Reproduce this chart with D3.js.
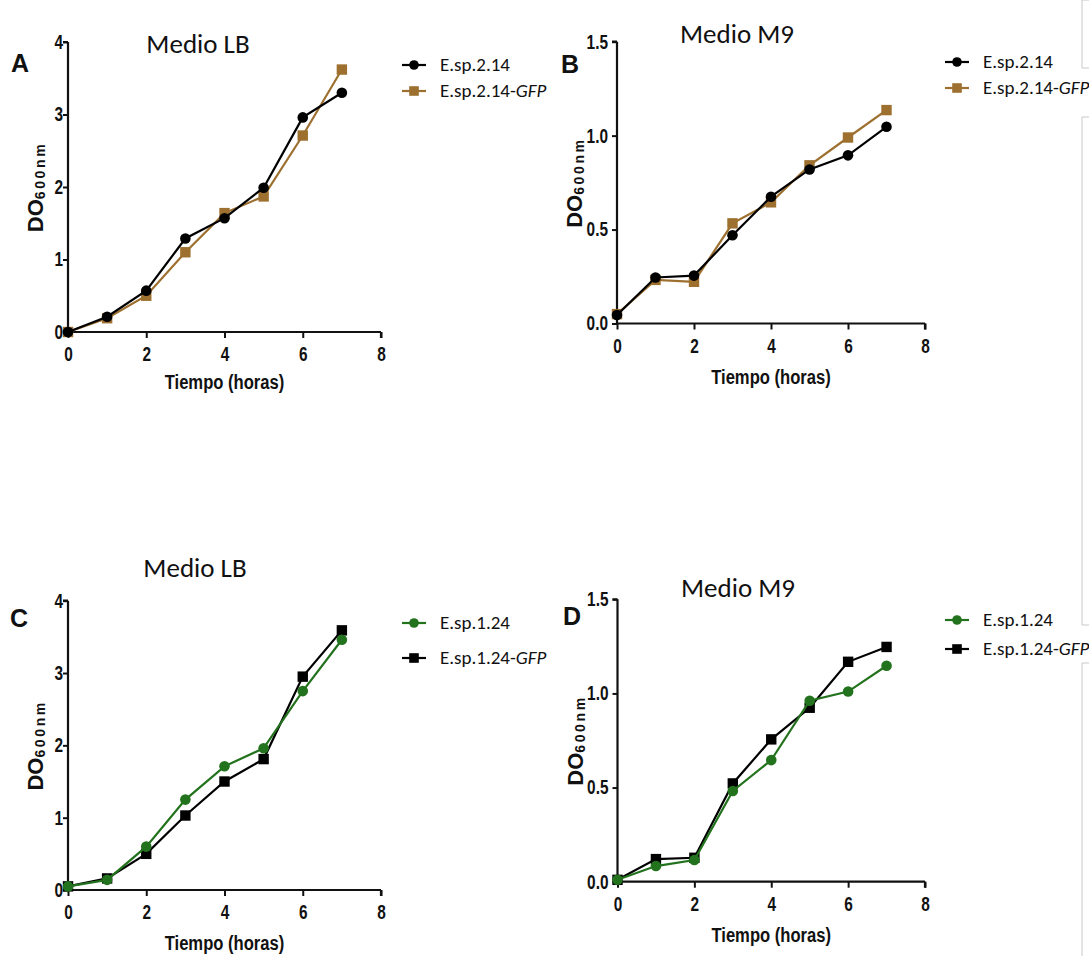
<!DOCTYPE html>
<html>
<head>
<meta charset="utf-8">
<script src="https://cdn.jsdelivr.net/npm/d3@7"></script>
<style>
  body { margin: 0; background: #fff; }
  svg { display: block; }
  .tick text { font-family: "Liberation Sans", Arial, sans-serif; font-weight: bold; font-size: 20px; fill: #111; }
  .xlab { font-family: "Liberation Sans", Arial, sans-serif; font-weight: bold; font-size: 20px; fill: #111; }
  .ylab { font-family: "Liberation Sans", Arial, sans-serif; font-weight: bold; font-size: 22px; fill: #111; }
  .title, .leg { font-family: Carlito, Calibri, Lato, "Open Sans", sans-serif; fill: #111; }
  .letter { font-family: "Liberation Sans", Arial, sans-serif; font-weight: bold; font-size: 25px; fill: #111; }
</style>
</head>
<body>
<div id="chart"></div>
<script>
(function() {

    var width = 1089, height = 956;

    // hours sampled
    var hours = [0, 1, 2, 3, 4, 5, 6, 7];

    // panel A - LB, strain 2.14
    var lbEsp214    = [0.00, 0.21, 0.57, 1.29, 1.57, 1.99, 2.96, 3.30];
    var lbEsp214Gfp = [0.00, 0.19, 0.50, 1.10, 1.64, 1.87, 2.71, 3.62];
    // panel B - M9, strain 2.14
    var m9Esp214    = [0.045, 0.245, 0.255, 0.47, 0.675, 0.82, 0.895, 1.047];
    var m9Esp214Gfp = [0.05, 0.232, 0.222, 0.533, 0.645, 0.842, 0.99, 1.136];
    // panel C - LB, strain 1.24
    var lbEsp124    = [0.05, 0.14, 0.60, 1.25, 1.71, 1.96, 2.75, 3.46];
    var lbEsp124Gfp = [0.05, 0.16, 0.50, 1.03, 1.50, 1.81, 2.95, 3.59];
    // panel D - M9, strain 1.24
    var m9Esp124    = [0.01, 0.083, 0.115, 0.482, 0.646, 0.961, 1.01, 1.147];
    var m9Esp124Gfp = [0.01, 0.12, 0.127, 0.522, 0.756, 0.924, 1.168, 1.247];

    var xTicks = [0, 2, 4, 6, 8];
    var lbTicks = [0, 1, 2, 3, 4];
    var m9Ticks = [0, 0.5, 1.0, 1.5];

    var brown = "#9d7030", green = "#23721d", black = "#000";

    var panels = [
        {letter: "A", title: "Medio LB", x0: 68, x1: 381, y0: 332, y1: 42, ymax: 4, ticks: lbTicks, fmt: d3.format("d"),
         ypad: 0, ylabOff: 25, xlabOff: 57,
         titleX: 198, titleY: 53, letterPos: [11, 72], legX: 402, legY: [65, 91],
         series: [
            {name: "E.sp.2.14", gfp: false, values: lbEsp214, color: black, shape: "circle"},
            {name: "E.sp.2.14", gfp: true, values: lbEsp214Gfp, color: brown, shape: "square"}]},
        {letter: "B", title: "Medio M9", x0: 617, x1: 925, y0: 323.5, y1: 41.7, ymax: 1.5, ticks: m9Ticks, fmt: d3.format(".1f"),
         ypad: 4, ylabOff: 35, xlabOff: 60,
         titleX: 737, titleY: 43, letterPos: [561, 73], legX: 945, legY: [62, 88],
         series: [
            {name: "E.sp.2.14", gfp: false, values: m9Esp214, color: black, shape: "circle"},
            {name: "E.sp.2.14", gfp: true, values: m9Esp214Gfp, color: brown, shape: "square"}]},
        {letter: "C", title: "Medio LB", x0: 68, x1: 381, y0: 890, y1: 600.7, ymax: 4, ticks: lbTicks, fmt: d3.format("d"),
         ypad: 0, ylabOff: 25, xlabOff: 60,
         titleX: 195, titleY: 577, letterPos: [10, 627], legX: 402, legY: [623, 658],
         series: [
            {name: "E.sp.1.24", gfp: false, values: lbEsp124, color: green, shape: "circle"},
            {name: "E.sp.1.24", gfp: true, values: lbEsp124Gfp, color: black, shape: "square"}]},
        {letter: "D", title: "Medio M9", x0: 617.5, x1: 925, y0: 881.7, y1: 599.3, ymax: 1.5, ticks: m9Ticks, fmt: d3.format(".1f"),
         ypad: 4, ylabOff: 35, xlabOff: 60,
         titleX: 738, titleY: 597, letterPos: [563, 625], legX: 945, legY: [620, 649],
         series: [
            {name: "E.sp.1.24", gfp: false, values: m9Esp124, color: green, shape: "circle"},
            {name: "E.sp.1.24", gfp: true, values: m9Esp124Gfp, color: black, shape: "square"}]}
    ];

    var svg = d3.select("#chart")
        .append("svg")
        .attr("width", width)
        .attr("height", height);

    // squeeze text horizontally, the original uses a condensed face
    function condense(sel, k) {
        sel.each(function() {
            var w = this.getComputedTextLength();
            d3.select(this).attr("textLength", w * k).attr("lengthAdjust", "spacingAndGlyphs");
        });
    }

    function marker(sel, shape, color, r) {
        if (shape == "circle") {
            sel.append("circle").attr("r", r).attr("fill", color);
        } else {
            sel.append("rect").attr("x", -r).attr("y", -r)
                .attr("width", 2 * r).attr("height", 2 * r).attr("fill", color);
        }
    }

    panels.forEach(function(p) {
        var x = d3.scaleLinear().domain([0, 8]).range([p.x0, p.x1]);
        var y = d3.scaleLinear().domain([0, p.ymax]).range([p.y0, p.y1]);
        var g = svg.append("g");

        var xAxis = g.append("g")
            .attr("transform", "translate(0," + p.y0 + ")")
            .call(d3.axisBottom(x).tickValues(xTicks).tickSize(6).tickPadding(9));
        var yAxis = g.append("g")
            .attr("transform", "translate(" + p.x0 + ",0)")
            .call(d3.axisLeft(y).tickValues(p.ticks).tickFormat(p.fmt).tickSize(5).tickPadding(p.ypad));
        [xAxis, yAxis].forEach(function(a) {
            a.select(".domain").attr("stroke", "#111").attr("stroke-width", 2.2);
            a.selectAll(".tick line").attr("stroke", "#111").attr("stroke-width", 2);
            condense(a.selectAll(".tick text"), 0.77);
        });
        xAxis.select(".domain").attr("d", "M" + p.x0 + ",0H" + p.x1 + "M" + p.x1 + ",0V6");
        yAxis.select(".domain").attr("d", "M0," + p.y0 + "V" + p.y1 + "M-5," + p.y1 + "H0");

        var xl = g.append("text").attr("class", "xlab")
            .attr("x", (p.x0 + p.x1) / 2).attr("y", p.y0 + p.xlabOff)
            .attr("text-anchor", "middle").text("Tiempo (horas)");
        condense(xl, 0.83);

        var yl = g.append("text").attr("class", "ylab")
            .attr("transform", "translate(" + (p.x0 - p.ylabOff) + "," + ((p.y0 + p.y1) / 2) + ") rotate(-90)")
            .attr("text-anchor", "middle");
        yl.append("tspan").text("DO");
        yl.append("tspan").attr("dy", 2).attr("font-size", 14).attr("letter-spacing", 2.6).text("600nm");

        g.append("text").attr("class", "title")
            .attr("x", p.titleX).attr("y", p.titleY)
            .attr("text-anchor", "middle").attr("font-size", 27).text(p.title);

        g.append("text").attr("class", "letter")
            .attr("x", p.letterPos[0]).attr("y", p.letterPos[1]).text(p.letter);

        // draw the gfp series first so the other one sits on top where they overlap
        p.series.slice().reverse().forEach(function(s) {
            var line = d3.line()
                .x(function(d, i) { return x(hours[i]); })
                .y(function(d) { return y(d); });
            g.append("path").datum(s.values)
                .attr("d", line).attr("fill", "none")
                .attr("stroke", s.color).attr("stroke-width", 2.2);
            g.selectAll(null).data(s.values).enter().append("g")
                .attr("transform", function(d, i) { return "translate(" + x(hours[i]) + "," + y(d) + ")"; })
                .each(function() { marker(d3.select(this), s.shape, s.color, s.shape == "circle" ? 5.3 : 5.2); });
        });

        // legend
        p.series.forEach(function(s, i) {
            var ly = p.legY[i];
            var lg = g.append("g").attr("transform", "translate(" + p.legX + "," + ly + ")");
            lg.append("line").attr("x1", 0).attr("x2", 24)
                .attr("stroke", s.color).attr("stroke-width", 2.2);
            var mg = lg.append("g").attr("transform", "translate(12,0)");
            marker(mg, s.shape, s.color, 4.8);
            var t = lg.append("text").attr("class", "leg")
                .attr("x", 38).attr("y", 6).attr("font-size", 19);
            t.append("tspan").text(s.name);
            if (s.gfp) {
                t.append("tspan").text("-");
                t.append("tspan").attr("font-style", "italic").text("GFP");
            }
        });
    });

    // cropped frame edges on the right border
    var frames = [[0, 68], [117, 625], [663, 960]];
    frames.forEach(function(f) {
        var path = d3.path();
        path.moveTo(1090, f[0]);
        path.lineTo(1082, f[0]);
        path.lineTo(1082, f[1]);
        path.lineTo(1090, f[1]);
        svg.append("path").attr("d", path.toString())
            .attr("fill", "none").attr("stroke", "#c8c8c8").attr("stroke-width", 1);
    });

})();
</script>
</body>
</html>
